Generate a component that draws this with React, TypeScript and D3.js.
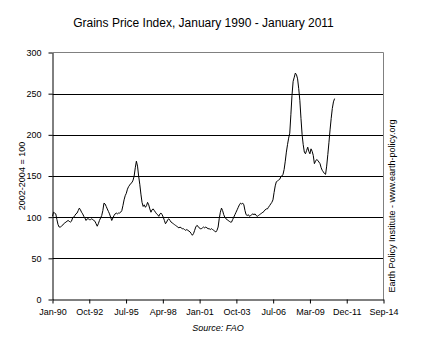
import { useEffect, useRef } from 'react';
import * as d3 from 'd3';

// FAO grains price index, monthly, Jan 1990 - Jan 2011 (2002-2004 = 100)
const startMonth = '1990-01';
const grainsIndex = [
  101, 106, 105, 104, 97, 91, 88, 88, 89, 90, 92, 93, // 1990
  94, 95, 96, 95, 94, 95, 99, 100, 102, 104, 105, 108, // 1991
  111, 109, 106, 104, 101, 99, 96, 98, 98, 97, 97, 98, // 1992
  97, 96, 95, 92, 89, 92, 96, 99, 102, 108, 117, 116, // 1993
  113, 110, 107, 104, 100, 96, 99, 102, 104, 105, 104, 105, // 1994
  105, 106, 108, 114, 121, 126, 129, 134, 137, 139, 141, 142, // 1995
  145, 150, 160, 168, 162, 150, 140, 128, 118, 113, 115, 112, // 1996
  114, 118, 115, 110, 106, 109, 110, 108, 106, 104, 103, 101, // 1997
  104, 105, 103, 100, 96, 92, 94, 97, 98, 96, 94, 93, // 1998
  92, 91, 90, 89, 88, 87, 88, 87, 86, 86, 85, 84, // 1999
  85, 84, 83, 82, 80, 78, 80, 84, 88, 90, 89, 87, // 2000
  86, 86, 87, 88, 87, 88, 87, 86, 86, 85, 86, 85, // 2001
  84, 83, 82, 84, 88, 98, 106, 111, 108, 103, 100, 98, // 2002
  97, 96, 95, 94, 94, 97, 100, 103, 106, 109, 112, 115, // 2003
  117, 116, 117, 115, 108, 103, 102, 103, 101, 102, 103, 104, // 2004
  103, 104, 102, 101, 102, 103, 104, 105, 106, 107, 109, 110, // 2005
  110, 112, 114, 116, 118, 121, 130, 138, 143, 144, 145, 146, // 2006
  149, 150, 152, 158, 168, 179, 188, 196, 202, 225, 248, 265, // 2007
  270, 275, 273, 268, 256, 242, 220, 200, 188, 179, 177, 181, // 2008
  185, 180, 177, 183, 180, 175, 165, 168, 170, 169, 167, 165, // 2009
  160, 157, 155, 153, 152, 162, 176, 191, 206, 220, 232, 240, // 2010
  244, // 2011
];

const xTickLabels = ['Jan-90', 'Oct-92', 'Jul-95', 'Apr-98', 'Jan-01', 'Oct-03', 'Jul-06', 'Mar-09', 'Dec-11', 'Sep-14'];
const xAxisStart = '1990-01-31';
const xTickStepDays = 1000;
const yTicks = [0, 50, 100, 150, 200, 250, 300];

const title = 'Grains Price Index, January 1990 - January 2011';
const yTitle = '2002-2004 = 100';
const sideNote = 'Earth Policy Institute - www.earth-policy.org';
const source = 'Source: FAO';

const FONT = '"Liberation Sans", Arial, sans-serif';

const App = () => {
  const ref = useRef<SVGSVGElement>(null);

  useEffect(() => {
    const width = 422;
    const height = 354;
    const m = { left: 52.5, right: 383.5, top: 52.5, bottom: 299.5 };

    const svg = d3.select(ref.current);
    svg.selectAll('*').remove();
    svg.attr('width', width).attr('height', height);

    const start = d3.isoParse(startMonth + '-01T00:00:00Z') as Date;
    // month-end dates for every observation
    const data = grainsIndex.map((v, i) => ({
      date: d3.utcDay.offset(d3.utcMonth.offset(start, i + 1), -1),
      value: v,
    }));

    const axisStart = d3.isoParse(xAxisStart + 'T00:00:00Z') as Date;
    const tickDates = xTickLabels.map((_, i) => d3.utcDay.offset(axisStart, i * xTickStepDays));

    const x = d3
      .scaleUtc()
      .domain([axisStart, tickDates[tickDates.length - 1]])
      .range([m.left, m.right]);
    const y = d3.scaleLinear().domain([0, 300]).range([m.bottom, m.top]);

    svg.append('rect').attr('width', width).attr('height', height).attr('fill', '#fff');

    // gridlines
    svg
      .append('g')
      .selectAll('line')
      .data(yTicks.filter((t) => t > 0 && t < 300))
      .enter()
      .append('line')
      .attr('x1', m.left)
      .attr('x2', m.right)
      .attr('y1', (d) => Math.round(y(d)) + 0.5)
      .attr('y2', (d) => Math.round(y(d)) + 0.5)
      .attr('stroke', '#000')
      .attr('stroke-width', 1);

    // plot border top/right (gray)
    svg
      .append('path')
      .attr('d', `M${m.left},${m.top}H${m.right}V${m.bottom}`)
      .attr('fill', 'none')
      .attr('stroke', '#808080');

    // y axis
    const yAxis = svg
      .append('g')
      .attr('transform', `translate(${m.left},0)`)
      .call(
        d3
          .axisLeft(y)
          .tickValues(yTicks)
          .tickSize(4)
          .tickSizeOuter(0)
          .tickPadding(7)
      );
    yAxis.selectAll('line').attr('stroke', '#000');
    yAxis.select('.domain').attr('stroke', '#000');
    yAxis.selectAll('text').attr('font-family', FONT).attr('font-size', 9).attr('fill', '#000');
    yAxis.attr('font-family', null).attr('font-size', null);

    // x axis
    const xAxis = svg
      .append('g')
      .attr('transform', `translate(0,${m.bottom})`)
      .call(
        d3
          .axisBottom(x)
          .tickValues(tickDates)
          .tickFormat((_, i) => xTickLabels[i])
          .tickSize(4)
          .tickSizeOuter(0)
          .tickPadding(5)
      );
    xAxis.selectAll('line').attr('stroke', '#000');
    xAxis.select('.domain').attr('stroke', '#000');
    xAxis.selectAll('text').attr('font-family', FONT).attr('font-size', 9).attr('fill', '#000');
    xAxis.attr('font-family', null).attr('font-size', null);

    // index line
    const line = d3
      .line<{ date: Date; value: number }>()
      .x((d) => x(d.date))
      .y((d) => y(d.value));

    svg
      .append('path')
      .datum(data)
      .attr('d', line)
      .attr('fill', 'none')
      .attr('stroke', '#000')
      .attr('stroke-width', 1)
      .attr('stroke-linejoin', 'round');

    // texts
    svg
      .append('text')
      .attr('x', 203.5)
      .attr('y', 27)
      .attr('text-anchor', 'middle')
      .attr('font-family', FONT)
      .attr('font-size', 12)
      .text(title);

    svg
      .append('text')
      .attr('transform', `translate(25,${(m.top + m.bottom) / 2}) rotate(-90)`)
      .attr('text-anchor', 'middle')
      .attr('font-family', FONT)
      .attr('font-size', 9)
      .text(yTitle);

    svg
      .append('text')
      .attr('transform', `translate(395,206) rotate(-90)`)
      .attr('text-anchor', 'middle')
      .attr('font-family', FONT)
      .attr('font-size', 9)
      .text(sideNote);

    svg
      .append('text')
      .attr('x', 218)
      .attr('y', 331)
      .attr('text-anchor', 'middle')
      .attr('font-family', FONT)
      .attr('font-size', 9)
      .attr('font-style', 'italic')
      .text(source);
  }, []);

  return <svg ref={ref} style={{ position: 'absolute', left: 0, top: 0 }}></svg>;
};

export default App;
